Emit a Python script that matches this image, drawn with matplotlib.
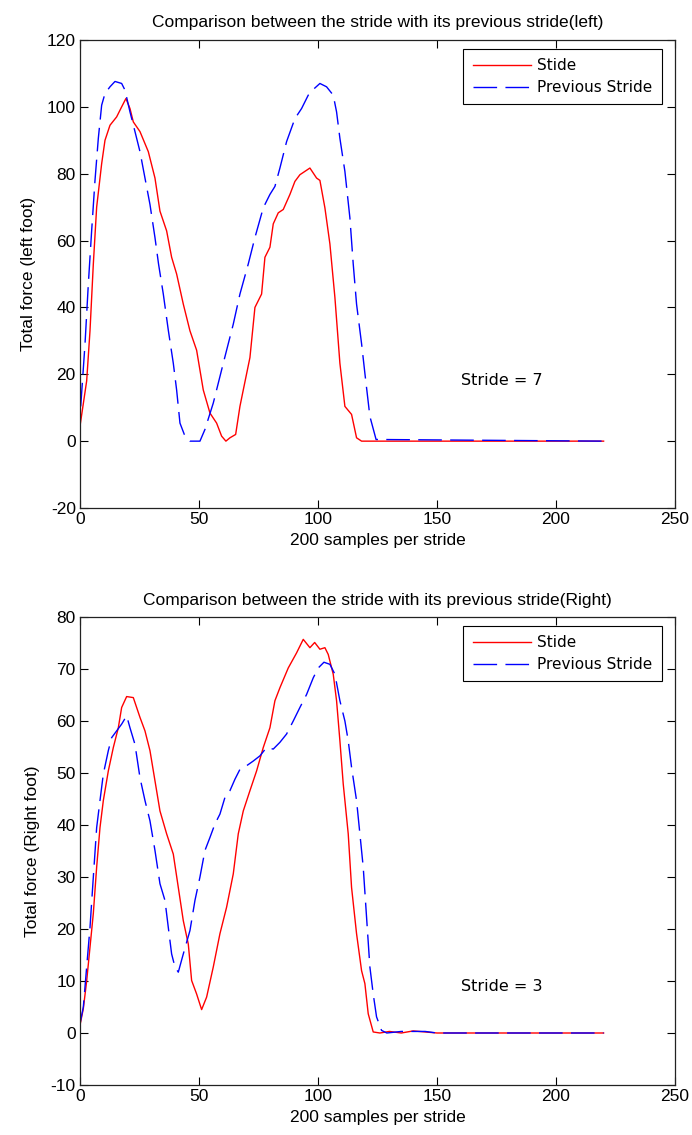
import matplotlib
matplotlib.use('Agg')
import matplotlib.pyplot as plt

# stride data (x = sample index, y = total force)
left_x = [0, 2.8, 4.2, 5.6, 7, 9.1, 10.5, 12.6, 15.4, 17.5, 19.3, 21, 22.4, 25.2, 28.7,
          31.5, 33.6, 36.4, 38.5, 40.6, 43.4, 46.2, 49, 51.8, 54.6, 57.4, 59.5, 61.3,
          63, 65.4, 67.2, 68.6, 71.4, 73.5, 76.3, 77.7, 79.8, 81.2, 83.3, 85.4, 88.2,
          90.3, 92.4, 96.6, 99.4, 100.8, 102.9, 105, 107.1, 109.2, 111.3, 114.1,
          116.2, 118.3, 220]
left_stride = [4.5, 18, 33, 53, 70, 83, 90, 94.5, 97, 100, 102.5, 99.5, 95.5, 92.6,
               86.6, 78.7, 68.8, 62.9, 55, 50, 41, 33, 27.2, 15.3, 8.4, 5.4, 1.5, 0,
               1, 2, 10.4, 15.3, 25, 40, 44, 55, 58, 65, 68.3, 69.3, 73.8, 77.7, 79.7,
               81.7, 78.7, 78, 69.8, 59, 43, 23.3, 10.4, 8, 1, 0, 0]

left_prev_x = [0.3, 2.1, 3.5, 4.9, 6.3, 7.7, 9.1, 10.5, 12.6, 14.7, 17.5, 18.9, 21,
               23.1, 25.2, 27.3, 29.4, 31.5, 33, 35, 37.1, 39.2, 40.6, 42, 44.1, 46.2,
               50.4, 52.5, 56, 60.2, 64.4, 67.2, 70.7, 73.5, 77, 79.8, 81.9, 84, 86.8,
               90.3, 93.1, 95.9, 98, 100.8, 103.6, 106.4, 107.8, 109.2, 111.3, 113.4,
               114.8, 116.2, 118.3, 119.7, 121.8, 124.4, 220]
left_prev = [10.4, 29, 47, 63, 78, 90.6, 100.5, 104, 106, 107.6, 107, 105, 98.5, 92.6,
             86.6, 78.7, 70.8, 60.9, 53, 44, 33.2, 23.3, 15.3, 5.4, 1.5, 0, 0, 3.5,
             11.4, 23.3, 35, 44, 53, 60.9, 69.8, 73.8, 76.2, 81.7, 89.6, 96.5, 99.5,
             103.5, 105.2, 107, 106, 103.5, 98.5, 90.6, 80.7, 66.8, 53, 41, 29.2, 20.3,
             7.4, 0.5, 0]

right_x = [0, 1.4, 2.8, 4.2, 5.6, 7, 8.4, 9.8, 11.9, 14, 16.1, 17.5, 19.6, 22.4, 23.8,
           25.2, 27.3, 29.4, 31.5, 33.6, 36.4, 39.2, 41.3, 43.4, 45.5, 46.9, 49, 51.1,
           53.2, 56, 58.8, 61.6, 64.4, 66.5, 68.6, 71.4, 74.2, 77, 79.8, 81.9, 84, 87.5,
           91, 93.8, 96.6, 98.6, 100.8, 102.9, 104.3, 106.4, 107.8, 109.2, 110.6, 112.7,
           114.1, 116.2, 118.3, 119.7, 121.1, 123.2, 126, 130, 135, 140, 145, 150, 220]
right_stride = [1.5, 4.7, 10, 16.5, 23, 31.9, 39.5, 44.7, 50.4, 54.9, 58.7, 62.6, 64.7,
                64.5, 62.6, 60.7, 58.1, 54.3, 48.5, 42.7, 38.3, 34.4, 28, 21.6, 17.1,
                10.1, 7.5, 4.5, 6.9, 12.7, 19.1, 24.2, 30.6, 38.3, 42.7, 46.6, 50.4,
                54.9, 58.7, 63.9, 66.4, 70.2, 73.1, 75.7, 74.1, 75.1, 73.8, 74.1, 72.8,
                69, 63.9, 56.2, 47.9, 38.3, 28, 19.1, 12, 9.5, 3.7, 0.2, 0, 0.3, 0, 0.4,
                0.2, 0, 0]

right_prev_x = [0, 1.4, 2.8, 4.2, 5.6, 7, 8.4, 9.8, 11.9, 13.3, 15.4, 17.5, 19.6, 21,
                23.1, 25.2, 27.3, 29.4, 31.5, 33.6, 35.7, 37.1, 38.5, 39.9, 41.3, 43.4,
                46.2, 48.3, 50.4, 52.5, 54.6, 56.7, 58.8, 60.9, 63, 65.1, 67.2, 70, 72.8,
                75.6, 78.4, 81.2, 84, 86.8, 89.6, 92.4, 95.2, 98, 100.1, 102.5, 105,
                107.1, 109.2, 111.3, 112.7, 114.1, 116.2, 117.6, 119, 120.4, 121.8,
                123.2, 124.6, 126.7, 128.9, 135, 145, 150, 220]
right_prev = [1.8, 5, 12.7, 20.3, 30, 39.5, 44.7, 49.8, 54.3, 56.8, 58.1, 59.4, 61,
              58.7, 55.5, 49.1, 44.7, 40.8, 35.1, 28.7, 25.5, 20.3, 15.2, 12.7, 11.7,
              15.2, 19.7, 25.5, 30, 35.1, 37.6, 40.2, 42.1, 45.3, 46.6, 48.8, 50.7,
              51.4, 52.3, 53.3, 54.9, 54.6, 55.9, 57.5, 60, 62.6, 65.1, 68.3, 70.2,
              71.3, 70.9, 69, 63.9, 60, 56.2, 51.1, 44.7, 38.3, 31.9, 22.3, 12.7, 7.5,
              3.1, 0.5, 0, 0.3, 0.3, 0, 0]

x_ticks = [0, 50, 100, 150, 200, 250]

plt.rcParams['font.family'] = ['Liberation Sans', 'DejaVu Sans']
plt.rcParams['font.size'] = 12.5
plt.rcParams['axes.unicode_minus'] = False

fig = plt.figure(figsize=(6.92, 11.35), dpi=100)
ax0 = fig.add_axes([80/692, 1-508/1135, 595/692, 468/1135])
ax1 = fig.add_axes([80/692, 1-1085/1135, 595/692, 468/1135])

panels = [
    (ax0, left_x, left_stride, left_prev_x, left_prev, (-20, 120), 'left', 'Total force (left foot)', 'Stride = 7', 18),
    (ax1, right_x, right_stride, right_prev_x, right_prev, (-10, 80), 'Right', 'Total force (Right foot)', 'Stride = 3', 9),
]

for ax, xs, ys, xp, yp, ylim, side, ylab, stxt, sty in panels:
    ax.plot(xs, ys, color='red', lw=1.0, label='Stide')
    ax.plot(xp, yp, color='blue', lw=1.0, dashes=(17, 6), label='Previous Stride')
    ax.set_xlim(0, 250)
    ax.set_ylim(*ylim)
    ax.set_xticks(x_ticks)
    ax.tick_params(direction='in', top=True, right=True, length=6, width=0.8,
                   labelsize=12.5, pad=3)
    for sp in ax.spines.values():
        sp.set_linewidth(0.9)
        sp.set_color('#222222')
    ax.set_title('Comparison between the stride with its previous stride(' + side + ')',
                 fontsize=12.5, pad=9)
    ax.set_xlabel('200 samples per stride', fontsize=12.5, labelpad=4)
    ax.set_ylabel(ylab, fontsize=12.5, labelpad=8)
    ax.text(160, sty, stxt, fontsize=11.5, family='DejaVu Sans', va='center', ha='left')
    leg = ax.legend(loc='upper right', bbox_to_anchor=(0.978, 0.981), borderaxespad=0,
                    prop={'family': 'DejaVu Sans', 'size': 11},
                    fancybox=False, edgecolor='black', framealpha=1, handlelength=3.8,
                    borderpad=0.6, labelspacing=0.45, handletextpad=0.45)
    leg.get_frame().set_linewidth(0.8)

fig.savefig('out.png', dpi=100)
